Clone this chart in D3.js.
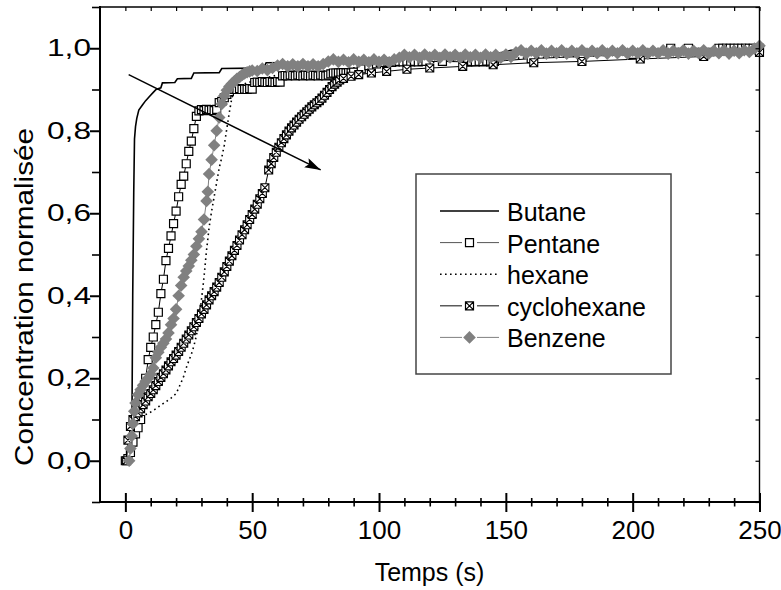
<!DOCTYPE html>
<html><head><meta charset="utf-8">
<script src="https://cdn.jsdelivr.net/npm/d3@7"></script>
<style>
body{margin:0;background:#fff}
svg text{font-family:"Liberation Sans",Arial,sans-serif;fill:#000}
</style>
</head><body>
<svg id="c" width="781" height="590"></svg>
<script>
// ---- data: [time (s), normalised concentration] ----
const butane=[[0,0],[2,0.02],[2.6,0.1],[2.9,0.4],[3.3,0.65],[3.6,0.78],[4,0.81],[4.5,0.83],[5.3,0.85],[6.8,0.863],[8,0.873],[9.5,0.883],[11,0.893],[12.1,0.9],[14,0.904],[14.6,0.916],[19.5,0.917],[20.5,0.926],[26,0.927],[27,0.94],[37,0.941],[38,0.951],[54.5,0.952],[55.5,0.965],[78,0.966],[80,0.97],[106,0.972],[108,0.98],[145,0.985],[152,0.995],[200,0.996],[250,1.0]];

const pentane=[[0,0],[1,0.005],[2,0.02],[3,0.045],[4,0.065],[5,0.08],[6,0.1],[7,0.15],[8,0.2],[9,0.245],[10,0.275],[11,0.3],[12,0.33],[13,0.36],[14,0.405],[15,0.44],[16,0.485],[17,0.515],[18,0.545],[19,0.575],[20,0.605],[21,0.64],[22,0.67],[23,0.69],[24,0.72],[25,0.75],[26,0.775],[27,0.805],[28,0.835],[29,0.848],[30,0.851],[31,0.849],[32,0.852],[33,0.85],[34,0.851],[35,0.849],[36,0.852],[37,0.868],[38,0.871],[39,0.88],[40,0.888],[41,0.895],[42,0.9],[43,0.901],[44,0.9],[45,0.902],[46,0.9],[47,0.901],[48,0.9],[49,0.902],[50,0.901],[51,0.917],[52,0.918],[53,0.917],[54,0.919],[55,0.918],[56,0.917],[57,0.919],[58,0.918],[59,0.917],[60,0.919],[61,0.918],[62,0.933],[63,0.934],[64,0.933],[65,0.935],[66,0.934],[67,0.933],[68,0.935],[69,0.934],[70,0.933],[71,0.935],[72,0.934],[73,0.933],[74,0.935],[75,0.934],[76,0.933],[77,0.935],[78,0.934],[79,0.933],[80,0.935],[81,0.938],[82,0.94],[83,0.94],[84,0.94],[85,0.94],[86,0.941],[87,0.94],[88,0.941],[89,0.94],[90,0.942],[93,0.95],[96,0.958],[99,0.962],[100.5,0.966],[102,0.966],[103.5,0.967],[105,0.966],[106.5,0.967],[108,0.968],[109.5,0.967],[111,0.968],[112.5,0.967],[114,0.968],[115.5,0.967],[117,0.968],[118.5,0.968],[125,0.968],[135,0.967],[136.5,0.968],[138,0.967],[139.5,0.968],[141,0.967],[142.5,0.968],[144,0.967],[145.5,0.968],[160,0.975],[180,0.98],[200,0.985],[215,1.0],[222,1.0],[234,1.0],[235.5,1.0],[237,1.0],[238.5,1.0],[240,1.0],[241.5,1.0],[243,1.0],[244.5,1.0],[246,1.0],[247.5,1.0],[250,1.0]];

const hexane=[[0,0],[2,0.05],[3,0.09],[4,0.105],[6,0.108],[8,0.112],[10,0.118],[12,0.126],[14,0.135],[16,0.143],[18,0.152],[20,0.163],[21,0.176],[22,0.19],[23,0.205],[24,0.225],[25,0.242],[26,0.258],[27,0.278],[28,0.303],[29,0.34],[30,0.39],[31,0.445],[32,0.51],[33,0.565],[34,0.605],[35,0.64],[36,0.675],[37,0.71],[38,0.735],[39,0.765],[40,0.805],[41,0.845],[42,0.88],[43,0.9],[45,0.91],[50,0.92],[60,0.935],[80,0.945],[100,0.96],[150,0.975],[200,0.985],[250,0.995]];

const cyclohexane=[[0.5,0],[1,0.05],[2,0.083],[3,0.1],[4,0.107],[5,0.116],[6,0.126],[7,0.136],[8,0.145],[9,0.155],[10,0.163],[11,0.172],[12,0.182],[13,0.192],[14,0.202],[15,0.211],[16,0.22],[17,0.23],[18,0.24],[19,0.248],[20,0.256],[21,0.265],[22,0.275],[23,0.285],[24,0.295],[25,0.305],[26,0.315],[27,0.325],[28,0.335],[29,0.345],[30,0.356],[31,0.367],[32,0.378],[33,0.39],[34,0.4],[35,0.41],[36,0.421],[37,0.432],[38,0.445],[39,0.458],[40,0.471],[41,0.484],[42,0.497],[43,0.51],[44,0.522],[45,0.535],[46,0.548],[47,0.56],[48,0.572],[49,0.585],[50,0.597],[51,0.61],[52,0.622],[53,0.635],[54,0.648],[55,0.662],[56.5,0.705],[57.5,0.72],[58.5,0.735],[59.5,0.748],[60.5,0.76],[61.5,0.771],[62.5,0.781],[63.5,0.79],[64.5,0.799],[65.5,0.807],[66.5,0.814],[67.5,0.821],[68.5,0.828],[69.5,0.834],[70.5,0.84],[71.5,0.846],[72.5,0.852],[73.5,0.858],[74.5,0.863],[75.5,0.868],[76.5,0.873],[77.5,0.879],[78.5,0.886],[79.5,0.893],[80.5,0.9],[81.5,0.907],[82.5,0.913],[83.5,0.918],[84.5,0.923],[86,0.927],[89,0.932],[92,0.936],[97,0.94],[103,0.944],[111,0.949],[120,0.952],[133,0.956],[145,0.96],[161,0.965],[180,0.968],[203,0.974],[228,0.98],[250,0.99]];

const benzene=[[1.5,0],[2,0.03],[2.5,0.06],[3,0.09],[3.5,0.12],[4,0.14],[5,0.16],[6,0.172],[7,0.183],[8,0.193],[9,0.2],[10,0.21],[11,0.225],[12,0.25],[13,0.263],[14,0.275],[15,0.285],[16,0.295],[17,0.31],[18,0.33],[19,0.345],[20,0.367],[21,0.4],[22,0.425],[23,0.445],[24,0.46],[25,0.472],[26,0.486],[27,0.5],[28,0.52],[29,0.538],[30,0.555],[31,0.585],[32,0.63],[32.5,0.652],[33,0.695],[34,0.73],[35,0.765],[36,0.8],[37,0.832],[38,0.865],[39,0.885],[40,0.898],[41,0.907],[42,0.914],[43,0.92],[44,0.926],[45,0.93],[46,0.935],[47,0.939],[48,0.942],[49,0.944],[50,0.946],[52,0.945],[54,0.951],[56,0.947],[58,0.952],[60,0.958],[62,0.962],[64,0.956],[66,0.961],[68,0.956],[70,0.962],[72,0.956],[74,0.961],[76,0.956],[78,0.962],[80,0.968],[82,0.973],[84,0.967],[86,0.972],[88,0.966],[90,0.973],[92,0.967],[94,0.972],[96,0.966],[98,0.973],[100,0.967],[102,0.972],[104,0.966],[106,0.973],[108,0.977],[110,0.984],[112,0.978],[114,0.984],[116,0.977],[118,0.985],[120,0.978],[122,0.984],[124,0.977],[126,0.985],[128,0.978],[130,0.984],[132,0.977],[134,0.985],[136,0.978],[138,0.984],[140,0.977],[142,0.985],[144,0.978],[146,0.984],[148,0.977],[150,0.985],[152,0.979],[154,0.99],[156,0.995],[158,0.987],[160,0.994],[162,0.988],[164,0.995],[166,0.987],[168,0.994],[170,0.988],[172,0.995],[174,0.987],[176,0.994],[178,0.988],[180,0.995],[182,0.987],[184,0.994],[186,0.988],[188,0.995],[190,0.987],[192,0.994],[194,0.988],[196,0.995],[198,0.987],[200,0.994],[202,0.988],[204,0.995],[206,0.987],[208,0.994],[210,0.988],[212,0.995],[214,0.987],[216,0.994],[218,0.988],[220,0.995],[222,0.987],[224,0.994],[226,0.988],[228,0.995],[230,0.987],[232,0.994],[234,0.988],[236,0.995],[238,0.987],[240,0.994],[242,0.988],[244,0.995],[246,0.991],[248,0.999],[250,1.006]];

const xTickValues=[0,50,100,150,200,250];
const yTickValues=[0,0.2,0.4,0.6,0.8,1.0];
const yTickLabels=["0,0","0,2","0,4","0,6","0,8","1,0"];
const legendLabels=["Butane","Pentane","hexane","cyclohexane","Benzene"];
const arrowPoints=[[1.3,0.936],[77,0.705]];
const xTitle="Temps (s)";
const yTitle="Concentration normalisée";

// ---- drawing ----
const svg=d3.select("#c");
const x=d3.scaleLinear().domain([-10,250]).range([100,759.5]);
const y=d3.scaleLinear().domain([-0.1,1.1]).range([502,7]);
const gray="#808080";

const line=d3.line().x(d=>x(d[0])).y(d=>y(d[1]));

const sq="M-4,-4h8v8h-8z";
const sqx="M-4,-4h8v8h-8zM-4,-4L4,4M4,-4L-4,4";
const dia="M0,-6.3L6.3,0L0,6.3L-6.3,0Z";

// butane
svg.append("path").attr("d",line(butane)).attr("fill","none").attr("stroke","#000").attr("stroke-width",1.6);
// hexane
svg.append("path").attr("d",line(hexane)).attr("fill","none").attr("stroke","#000").attr("stroke-width",1.6).attr("stroke-dasharray","1.6,3.4");
// pentane
svg.append("path").attr("d",line(pentane)).attr("fill","none").attr("stroke","#000").attr("stroke-width",1);
svg.append("g").selectAll("path").data(pentane).join("path")
  .attr("transform",d=>`translate(${x(d[0])},${y(d[1])})`).attr("d",sq)
  .attr("fill","#fff").attr("stroke","#000").attr("stroke-width",1.2);
// cyclohexane
svg.append("path").attr("d",line(cyclohexane)).attr("fill","none").attr("stroke","#000").attr("stroke-width",1);
svg.append("g").selectAll("path").data(cyclohexane).join("path")
  .attr("transform",d=>`translate(${x(d[0])},${y(d[1])})`).attr("d",sqx)
  .attr("fill","#fff").attr("stroke","#000").attr("stroke-width",1.1);
// benzene
svg.append("path").attr("d",line(benzene)).attr("fill","none").attr("stroke",gray).attr("stroke-width",1);
svg.append("g").selectAll("path").data(benzene).join("path")
  .attr("transform",d=>`translate(${x(d[0])},${y(d[1])})`).attr("d",dia)
  .attr("fill",gray).attr("stroke","none");

// arrow
svg.append("defs").append("marker").attr("id","ah").attr("markerUnits","userSpaceOnUse")
  .attr("markerWidth",18).attr("markerHeight",12).attr("refX",16).attr("refY",5)
  .attr("orient","auto").append("path").attr("d","M0,0L16,5L0,10L3,5Z").attr("fill","#000");
svg.append("path").attr("d",line(arrowPoints)).attr("stroke","#000").attr("stroke-width",1.5)
  .attr("fill","none").attr("marker-end","url(#ah)");

// axes
const yMinor=y.ticks(12).filter(v=>Math.abs(Math.round(v*10)%2)===1);
const xMinor=x.ticks(26).filter(v=>v>=0 && v%50!==0);
function styleTicks(g,w){g.select(".domain").remove();g.selectAll("line").attr("stroke","#000").attr("stroke-width",w);}

// left
svg.append("g").attr("transform","translate(100,0)")
  .call(d3.axisLeft(y).tickValues(yMinor).tickSize(8).tickFormat(""))
  .call(g=>styleTicks(g,1.6));
const gl=svg.append("g").attr("transform","translate(100,0)")
  .call(d3.axisLeft(y).tickValues(yTickValues).tickSize(10).tickPadding(-1).tickFormat((d,i)=>yTickLabels[i]))
  .call(g=>styleTicks(g,2));
gl.selectAll("text").attr("font-size",24).attr("font-family",null)
  .attr("textLength",44).attr("lengthAdjust","spacingAndGlyphs");
gl.attr("font-family",null).attr("font-size",null);

// bottom
svg.append("g").attr("transform","translate(0,502)")
  .call(d3.axisBottom(x).tickValues(xMinor).tickSize(4.5).tickFormat(""))
  .call(g=>styleTicks(g,1.6));
svg.append("g").attr("transform","translate(0,502)")
  .call(d3.axisTop(x).tickValues(xMinor).tickSize(4).tickFormat(""))
  .call(g=>styleTicks(g,1.6));
svg.append("g").attr("transform","translate(0,502)")
  .call(d3.axisTop(x).tickValues(xTickValues).tickSize(9).tickFormat(""))
  .call(g=>styleTicks(g,2));
const gb=svg.append("g").attr("transform","translate(0,502)")
  .call(d3.axisBottom(x).tickValues(xTickValues).tickSize(10).tickPadding(8.5).tickFormat(d3.format("d")))
  .call(g=>styleTicks(g,2));
gb.attr("font-family",null).attr("font-size",null);
gb.selectAll("text").attr("font-size",26);

// top (inner ticks)
svg.append("g").attr("transform","translate(0,7)")
  .call(d3.axisBottom(x).tickValues(x.ticks(26).filter(v=>v>=0)).tickSize(4).tickFormat(""))
  .call(g=>styleTicks(g,1.2));
// right (inner ticks)
svg.append("g").attr("transform","translate(759.5,0)")
  .call(d3.axisLeft(y).tickValues(y.ticks(12)).tickSize(4).tickFormat(""))
  .call(g=>styleTicks(g,1.2));

// frame
svg.append("line").attr("x1",100).attr("x2",100).attr("y1",6).attr("y2",503).attr("stroke","#000").attr("stroke-width",2);
svg.append("line").attr("x1",99).attr("x2",760.5).attr("y1",502).attr("y2",502).attr("stroke","#000").attr("stroke-width",2);
svg.append("line").attr("x1",100).attr("x2",760).attr("y1",7).attr("y2",7).attr("stroke","#000").attr("stroke-width",1.4);
svg.append("line").attr("x1",759.5).attr("x2",759.5).attr("y1",7).attr("y2",502).attr("stroke","#000").attr("stroke-width",1.4);

// titles
svg.append("text").attr("x",429.5).attr("y",581).attr("text-anchor","middle").attr("font-size",25).text(xTitle);
svg.append("text").attr("transform","translate(33,297) rotate(-90)").attr("text-anchor","middle")
  .attr("font-size",25).attr("textLength",338).attr("lengthAdjust","spacingAndGlyphs").text(yTitle);

// legend
const lg=svg.append("g");
lg.append("rect").attr("x",416).attr("y",174).attr("width",255).attr("height",200)
  .attr("fill","#fff").attr("stroke","#444").attr("stroke-width",1.5);
const ly=i=>211+i*31.6;
const styles=[
  {stroke:"#000",w:1.6,dash:null,mk:null},
  {stroke:"#555",w:1,dash:null,mk:sq,fill:"#fff",ms:"#000"},
  {stroke:"#000",w:1.6,dash:"1.6,3.4",mk:null},
  {stroke:"#333",w:1.2,dash:null,mk:sqx,fill:"#fff",ms:"#000"},
  {stroke:gray,w:1,dash:null,mk:dia,fill:gray,ms:"none"}
];
legendLabels.forEach((lab,i)=>{
  const s=styles[i], yy=ly(i);
  if(s.mk){
    lg.append("line").attr("x1",440).attr("x2",462).attr("y1",yy).attr("y2",yy).attr("stroke",s.stroke).attr("stroke-width",s.w);
    lg.append("line").attr("x1",477).attr("x2",499).attr("y1",yy).attr("y2",yy).attr("stroke",s.stroke).attr("stroke-width",s.w);
    lg.append("path").attr("transform",`translate(469.5,${yy})`).attr("d",s.mk).attr("fill",s.fill).attr("stroke",s.ms).attr("stroke-width",1.2);
  } else {
    lg.append("line").attr("x1",440).attr("x2",499).attr("y1",yy).attr("y2",yy).attr("stroke",s.stroke).attr("stroke-width",s.w).attr("stroke-dasharray",s.dash);
  }
  lg.append("text").attr("x",507).attr("y",yy+10).attr("font-size",25).text(lab);
});
</script>
</body></html>
